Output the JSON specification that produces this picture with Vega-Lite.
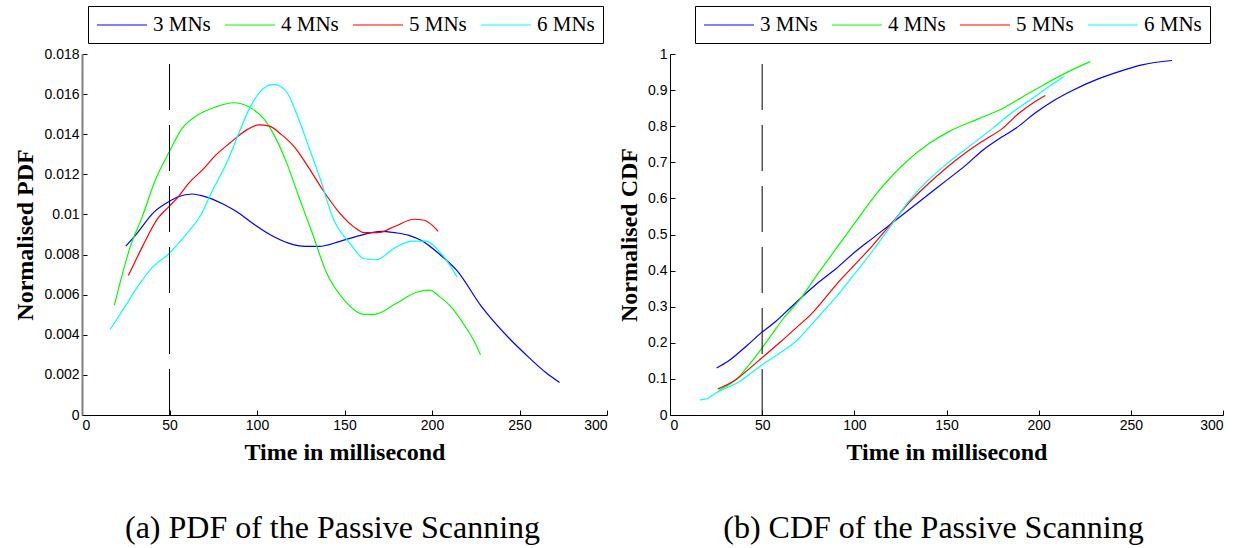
{
  "$schema": "https://vega.github.io/schema/vega-lite/v6.json",
  "background": "white",
  "padding": {"left": 13, "top": 5, "right": 5, "bottom": 5},
  "spacing": 9,
  "config": {
    "view": {"stroke": null},
    "axis": {"grid": false, "domainColor": "black", "tickColor": "black", "tickSize": -5, "labelPadding": 8, "labelOverlap": false, "labelFont": "Liberation Sans", "labelFontSize": 14, "labelColor": "black", "titleFont": "Liberation Serif", "titleFontSize": 24, "titleFontWeight": "bold", "titleColor": "black"},
    "axisX": {"titlePadding": 8},
    "axisY": {"titlePadding": 6},
    "legend": {"orient": "none", "direction": "horizontal", "columns": 4, "symbolType": "M-1,0H4", "symbolSize": 400, "symbolStrokeWidth": 1.2, "labelFont": "Liberation Serif", "labelFontSize": 21, "labelColor": "black", "strokeColor": "black", "fillColor": "white", "padding": 8, "columnPadding": 11, "labelOffset": 35, "labelLimit": 200},
    "title": {"font": "Liberation Serif", "fontSize": 32, "fontWeight": "normal", "color": "black", "orient": "bottom"}
  },
  "datasets": {
    "pdf": [
      {"s": "3 MNs", "t": 25.0, "v": 0.00842}, {"s": "3 MNs", "t": 30.5, "v": 0.00896}, {"s": "3 MNs", "t": 41.3, "v": 0.01013}, {"s": "3 MNs", "t": 49.5, "v": 0.01063}, {"s": "3 MNs", "t": 55.0, "v": 0.01088}, {"s": "3 MNs", "t": 62.9, "v": 0.01102}, {"s": "3 MNs", "t": 68.8, "v": 0.01093}, {"s": "3 MNs", "t": 80.6, "v": 0.01052}, {"s": "3 MNs", "t": 88.5, "v": 0.01013}, {"s": "3 MNs", "t": 98.3, "v": 0.00951}, {"s": "3 MNs", "t": 108.1, "v": 0.00896}, {"s": "3 MNs", "t": 118.0, "v": 0.00857}, {"s": "3 MNs", "t": 127.8, "v": 0.00841}, {"s": "3 MNs", "t": 135.7, "v": 0.00841}, {"s": "3 MNs", "t": 147.4, "v": 0.00866}, {"s": "3 MNs", "t": 159.2, "v": 0.00896}, {"s": "3 MNs", "t": 171.0, "v": 0.00916}, {"s": "3 MNs", "t": 178.9, "v": 0.00909}, {"s": "3 MNs", "t": 186.8, "v": 0.00896}, {"s": "3 MNs", "t": 194.6, "v": 0.00867}, {"s": "3 MNs", "t": 204.5, "v": 0.00800}, {"s": "3 MNs", "t": 214.3, "v": 0.00720}, {"s": "3 MNs", "t": 228.0, "v": 0.00544}, {"s": "3 MNs", "t": 243.8, "v": 0.00385}, {"s": "3 MNs", "t": 255.6, "v": 0.00285}, {"s": "3 MNs", "t": 265.4, "v": 0.00209}, {"s": "3 MNs", "t": 272.9, "v": 0.00162},
      {"s": "4 MNs", "t": 18.5, "v": 0.00548}, {"s": "4 MNs", "t": 23.6, "v": 0.00720}, {"s": "4 MNs", "t": 27.5, "v": 0.00837}, {"s": "4 MNs", "t": 34.4, "v": 0.00988}, {"s": "4 MNs", "t": 42.3, "v": 0.01180}, {"s": "4 MNs", "t": 49.5, "v": 0.01306}, {"s": "4 MNs", "t": 57.0, "v": 0.01427}, {"s": "4 MNs", "t": 65.9, "v": 0.01494}, {"s": "4 MNs", "t": 76.7, "v": 0.01537}, {"s": "4 MNs", "t": 86.5, "v": 0.01557}, {"s": "4 MNs", "t": 96.3, "v": 0.01532}, {"s": "4 MNs", "t": 104.2, "v": 0.01474}, {"s": "4 MNs", "t": 111.1, "v": 0.01373}, {"s": "4 MNs", "t": 117.0, "v": 0.01256}, {"s": "4 MNs", "t": 123.9, "v": 0.01088}, {"s": "4 MNs", "t": 131.7, "v": 0.00904}, {"s": "4 MNs", "t": 139.6, "v": 0.00712}, {"s": "4 MNs", "t": 149.4, "v": 0.00578}, {"s": "4 MNs", "t": 161.2, "v": 0.00502}, {"s": "4 MNs", "t": 167.1, "v": 0.00502}, {"s": "4 MNs", "t": 178.9, "v": 0.00553}, {"s": "4 MNs", "t": 190.7, "v": 0.00611}, {"s": "4 MNs", "t": 198.6, "v": 0.00623}, {"s": "4 MNs", "t": 204.5, "v": 0.00589}, {"s": "4 MNs", "t": 210.4, "v": 0.00544}, {"s": "4 MNs", "t": 218.2, "v": 0.00452}, {"s": "4 MNs", "t": 224.1, "v": 0.00368}, {"s": "4 MNs", "t": 227.7, "v": 0.00301},
      {"s": "5 MNs", "t": 26.5, "v": 0.00695}, {"s": "5 MNs", "t": 34.4, "v": 0.00837}, {"s": "5 MNs", "t": 43.3, "v": 0.00980}, {"s": "5 MNs", "t": 49.5, "v": 0.01038}, {"s": "5 MNs", "t": 55.0, "v": 0.01088}, {"s": "5 MNs", "t": 60.9, "v": 0.01155}, {"s": "5 MNs", "t": 68.8, "v": 0.01222}, {"s": "5 MNs", "t": 76.7, "v": 0.01298}, {"s": "5 MNs", "t": 84.5, "v": 0.01356}, {"s": "5 MNs", "t": 94.4, "v": 0.01423}, {"s": "5 MNs", "t": 101.2, "v": 0.01447}, {"s": "5 MNs", "t": 107.1, "v": 0.01440}, {"s": "5 MNs", "t": 114.0, "v": 0.01398}, {"s": "5 MNs", "t": 121.9, "v": 0.01331}, {"s": "5 MNs", "t": 129.7, "v": 0.01231}, {"s": "5 MNs", "t": 137.6, "v": 0.01122}, {"s": "5 MNs", "t": 147.4, "v": 0.01005}, {"s": "5 MNs", "t": 155.3, "v": 0.00938}, {"s": "5 MNs", "t": 161.2, "v": 0.00909}, {"s": "5 MNs", "t": 169.1, "v": 0.00909}, {"s": "5 MNs", "t": 178.9, "v": 0.00941}, {"s": "5 MNs", "t": 189.7, "v": 0.00976}, {"s": "5 MNs", "t": 195.6, "v": 0.00971}, {"s": "5 MNs", "t": 200.5, "v": 0.00943}, {"s": "5 MNs", "t": 203.5, "v": 0.00916},
      {"s": "6 MNs", "t": 16.1, "v": 0.00427}, {"s": "6 MNs", "t": 23.6, "v": 0.00527}, {"s": "6 MNs", "t": 31.5, "v": 0.00636}, {"s": "6 MNs", "t": 40.3, "v": 0.00737}, {"s": "6 MNs", "t": 49.5, "v": 0.00804}, {"s": "6 MNs", "t": 59.0, "v": 0.00896}, {"s": "6 MNs", "t": 67.8, "v": 0.00996}, {"s": "6 MNs", "t": 74.7, "v": 0.01122}, {"s": "6 MNs", "t": 82.6, "v": 0.01256}, {"s": "6 MNs", "t": 88.5, "v": 0.01381}, {"s": "6 MNs", "t": 95.4, "v": 0.01524}, {"s": "6 MNs", "t": 102.2, "v": 0.01616}, {"s": "6 MNs", "t": 109.1, "v": 0.01649}, {"s": "6 MNs", "t": 116.0, "v": 0.01621}, {"s": "6 MNs", "t": 123.9, "v": 0.01473}, {"s": "6 MNs", "t": 129.8, "v": 0.01331}, {"s": "6 MNs", "t": 135.7, "v": 0.01189}, {"s": "6 MNs", "t": 143.5, "v": 0.00980}, {"s": "6 MNs", "t": 153.3, "v": 0.00854}, {"s": "6 MNs", "t": 161.2, "v": 0.00779}, {"s": "6 MNs", "t": 168.1, "v": 0.00774}, {"s": "6 MNs", "t": 178.9, "v": 0.00834}, {"s": "6 MNs", "t": 188.7, "v": 0.00867}, {"s": "6 MNs", "t": 196.6, "v": 0.00867}, {"s": "6 MNs", "t": 204.5, "v": 0.00812}, {"s": "6 MNs", "t": 210.4, "v": 0.00745}, {"s": "6 MNs", "t": 214.3, "v": 0.00687}
    ],
    "cdf": [
      {"s": "3 MNs", "t": 25.3, "v": 0.130}, {"s": "3 MNs", "t": 31.3, "v": 0.148}, {"s": "3 MNs", "t": 42.1, "v": 0.194}, {"s": "3 MNs", "t": 49.1, "v": 0.226}, {"s": "3 MNs", "t": 57.3, "v": 0.259}, {"s": "3 MNs", "t": 65.9, "v": 0.300}, {"s": "3 MNs", "t": 80, "v": 0.365}, {"s": "3 MNs", "t": 90, "v": 0.405}, {"s": "3 MNs", "t": 100, "v": 0.450}, {"s": "3 MNs", "t": 110, "v": 0.490}, {"s": "3 MNs", "t": 120, "v": 0.530}, {"s": "3 MNs", "t": 130, "v": 0.570}, {"s": "3 MNs", "t": 140, "v": 0.610}, {"s": "3 MNs", "t": 150, "v": 0.650}, {"s": "3 MNs", "t": 160, "v": 0.690}, {"s": "3 MNs", "t": 170, "v": 0.735}, {"s": "3 MNs", "t": 180, "v": 0.770}, {"s": "3 MNs", "t": 187.6, "v": 0.794}, {"s": "3 MNs", "t": 197.7, "v": 0.835}, {"s": "3 MNs", "t": 208.5, "v": 0.872}, {"s": "3 MNs", "t": 218.3, "v": 0.899}, {"s": "3 MNs", "t": 232.3, "v": 0.931}, {"s": "3 MNs", "t": 245.3, "v": 0.954}, {"s": "3 MNs", "t": 256.1, "v": 0.970}, {"s": "3 MNs", "t": 272.3, "v": 0.982},
      {"s": "4 MNs", "t": 26.5, "v": 0.068}, {"s": "4 MNs", "t": 30, "v": 0.078}, {"s": "4 MNs", "t": 35.7, "v": 0.0975}, {"s": "4 MNs", "t": 44.3, "v": 0.148}, {"s": "4 MNs", "t": 49.1, "v": 0.180}, {"s": "4 MNs", "t": 55.1, "v": 0.222}, {"s": "4 MNs", "t": 61.6, "v": 0.268}, {"s": "4 MNs", "t": 70.2, "v": 0.318}, {"s": "4 MNs", "t": 80, "v": 0.390}, {"s": "4 MNs", "t": 90, "v": 0.460}, {"s": "4 MNs", "t": 100, "v": 0.530}, {"s": "4 MNs", "t": 110, "v": 0.600}, {"s": "4 MNs", "t": 120, "v": 0.660}, {"s": "4 MNs", "t": 130, "v": 0.710}, {"s": "4 MNs", "t": 140, "v": 0.750}, {"s": "4 MNs", "t": 151.3, "v": 0.785}, {"s": "4 MNs", "t": 167.5, "v": 0.821}, {"s": "4 MNs", "t": 180.4, "v": 0.849}, {"s": "4 MNs", "t": 191.2, "v": 0.881}, {"s": "4 MNs", "t": 202.1, "v": 0.913}, {"s": "4 MNs", "t": 217.2, "v": 0.954}, {"s": "4 MNs", "t": 228.0, "v": 0.979},
      {"s": "5 MNs", "t": 25.9, "v": 0.072}, {"s": "5 MNs", "t": 35.7, "v": 0.0975}, {"s": "5 MNs", "t": 44.3, "v": 0.134}, {"s": "5 MNs", "t": 49.1, "v": 0.155}, {"s": "5 MNs", "t": 59.4, "v": 0.200}, {"s": "5 MNs", "t": 68.1, "v": 0.240}, {"s": "5 MNs", "t": 76.7, "v": 0.280}, {"s": "5 MNs", "t": 83.2, "v": 0.318}, {"s": "5 MNs", "t": 90, "v": 0.360}, {"s": "5 MNs", "t": 100, "v": 0.415}, {"s": "5 MNs", "t": 110, "v": 0.470}, {"s": "5 MNs", "t": 120, "v": 0.530}, {"s": "5 MNs", "t": 130, "v": 0.590}, {"s": "5 MNs", "t": 140, "v": 0.640}, {"s": "5 MNs", "t": 150, "v": 0.685}, {"s": "5 MNs", "t": 160, "v": 0.725}, {"s": "5 MNs", "t": 170, "v": 0.760}, {"s": "5 MNs", "t": 180.4, "v": 0.794}, {"s": "5 MNs", "t": 189.1, "v": 0.835}, {"s": "5 MNs", "t": 197.7, "v": 0.867}, {"s": "5 MNs", "t": 203.6, "v": 0.885},
      {"s": "6 MNs", "t": 16.2, "v": 0.042}, {"s": "6 MNs", "t": 20, "v": 0.045}, {"s": "6 MNs", "t": 24.9, "v": 0.061}, {"s": "6 MNs", "t": 37.8, "v": 0.093}, {"s": "6 MNs", "t": 49.1, "v": 0.136}, {"s": "6 MNs", "t": 59.4, "v": 0.171}, {"s": "6 MNs", "t": 68.1, "v": 0.203}, {"s": "6 MNs", "t": 78.9, "v": 0.263}, {"s": "6 MNs", "t": 88.6, "v": 0.318}, {"s": "6 MNs", "t": 100, "v": 0.390}, {"s": "6 MNs", "t": 110, "v": 0.455}, {"s": "6 MNs", "t": 120, "v": 0.525}, {"s": "6 MNs", "t": 130, "v": 0.595}, {"s": "6 MNs", "t": 140, "v": 0.650}, {"s": "6 MNs", "t": 150, "v": 0.695}, {"s": "6 MNs", "t": 160, "v": 0.735}, {"s": "6 MNs", "t": 175.0, "v": 0.794}, {"s": "6 MNs", "t": 184.8, "v": 0.835}, {"s": "6 MNs", "t": 197.7, "v": 0.881}, {"s": "6 MNs", "t": 206.4, "v": 0.913}, {"s": "6 MNs", "t": 213.5, "v": 0.936}
    ]
  },
  "resolve": {"legend": {"color": "independent"}, "scale": {"color": "independent"}},
  "hconcat": [
    {
      "width": 525,
      "height": 361,
      "title": {"text": "(a) PDF of the Passive Scanning", "dx": -12, "offset": 49, "font": "Liberation Serif"},
      "layer": [
        {
          "data": {"name": "pdf"},
          "mark": {"type": "line", "strokeWidth": 1.2, "interpolate": "monotone"},
          "encoding": {
            "x": {"field": "t", "type": "quantitative", "scale": {"domain": [0, 300], "nice": false}, "axis": {"title": "Time in millisecond", "values": [0, 50, 100, 150, 200, 250, 300], "tickCount": 20, "labelOverlap": false}},
            "y": {"field": "v", "type": "quantitative", "scale": {"domain": [0, 0.018], "nice": false}, "axis": {"title": "Normalised PDF", "values": [0, 0.002, 0.004, 0.006, 0.008, 0.01, 0.012, 0.014, 0.016, 0.018], "tickCount": 20, "format": "~g", "labelOverlap": false, "domainColor": "#808080", "domainWidth": 2}},
            "color": {"field": "s", "type": "nominal", "scale": {"domain": ["3 MNs", "4 MNs", "5 MNs", "6 MNs"], "range": ["#0000ff", "#00ff00", "#ff0000", "#00ffff"]}, "legend": {"title": null, "legendX": 6, "legendY": -48}}
          }
        },
        {
          "data": {"values": [{"x": 50, "y0": 0, "y1": 0.01766}]},
          "mark": {"type": "rule", "color": "black", "strokeWidth": 1, "strokeDash": [46, 15]},
          "encoding": {
            "x": {"field": "x", "type": "quantitative"},
            "y": {"field": "y0", "type": "quantitative"},
            "y2": {"field": "y1"}
          }
        }
      ]
    },
    {
      "width": 553,
      "height": 361,
      "title": {"text": "(b) CDF of the Passive Scanning", "dx": -13, "offset": 49, "font": "Liberation Serif"},
      "layer": [
        {
          "data": {"name": "cdf"},
          "mark": {"type": "line", "strokeWidth": 1.2, "interpolate": "monotone"},
          "encoding": {
            "x": {"field": "t", "type": "quantitative", "scale": {"domain": [0, 300], "nice": false}, "axis": {"title": "Time in millisecond", "values": [0, 50, 100, 150, 200, 250, 300], "tickCount": 20, "labelOverlap": false}},
            "y": {"field": "v", "type": "quantitative", "scale": {"domain": [0, 1], "nice": false}, "axis": {"title": "Normalised CDF", "values": [0, 0.1, 0.2, 0.3, 0.4, 0.5, 0.6, 0.7, 0.8, 0.9, 1], "tickCount": 20, "format": "~g", "labelOverlap": false}},
            "color": {"field": "s", "type": "nominal", "scale": {"domain": ["3 MNs", "4 MNs", "5 MNs", "6 MNs"], "range": ["#0000ff", "#00ff00", "#ff0000", "#00ffff"]}, "legend": {"title": null, "legendX": 25, "legendY": -48}}
          }
        },
        {
          "data": {"values": [{"x": 50, "y0": 0, "y1": 0.977}]},
          "mark": {"type": "rule", "color": "black", "strokeWidth": 1, "strokeDash": [46, 15]},
          "encoding": {
            "x": {"field": "x", "type": "quantitative"},
            "y": {"field": "y0", "type": "quantitative"},
            "y2": {"field": "y1"}
          }
        }
      ]
    }
  ]
}
